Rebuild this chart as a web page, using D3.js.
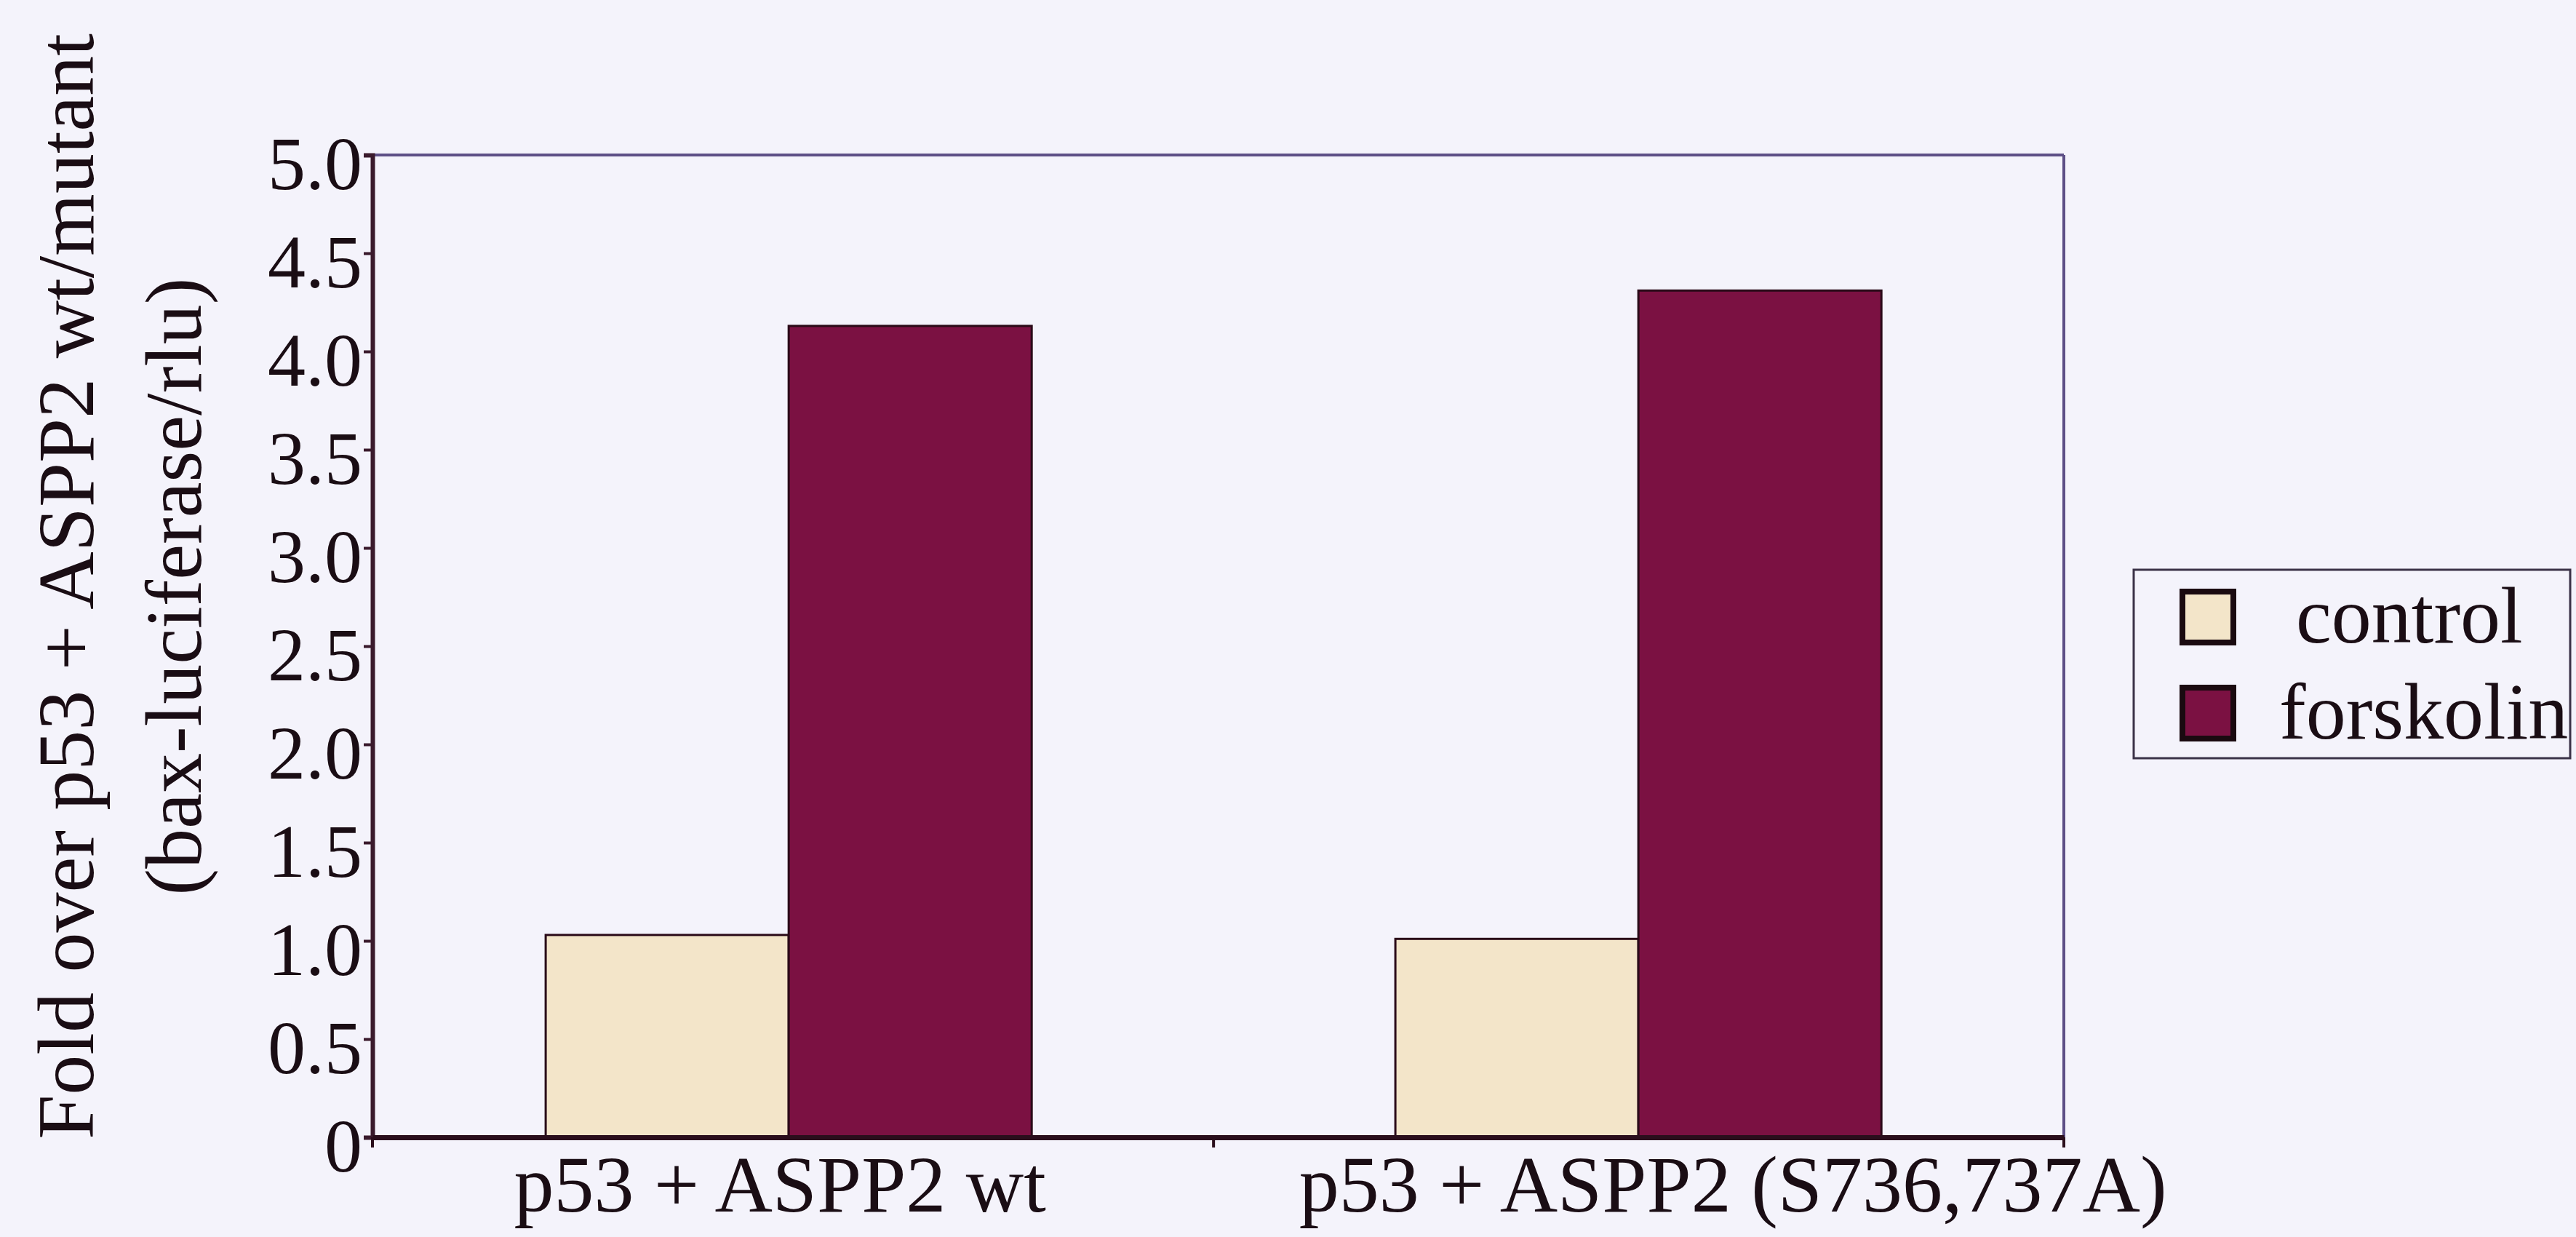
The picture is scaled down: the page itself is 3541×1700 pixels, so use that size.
<!DOCTYPE html>
<html>
<head>
<meta charset="utf-8">
<script src="https://cdn.jsdelivr.net/npm/d3@7"></script>
<style>
  html, body { margin: 0; padding: 0; background: #f4f3fb; }
  svg { display: block; }
  text { font-family: "Liberation Serif", "Times New Roman", serif; fill: #1a0d14; }
</style>
</head>
<body>
<svg id="chart" width="3541" height="1700"></svg>
<script>
// ---- data ----
const categories = ["p53 + ASPP2 wt", "p53 + ASPP2 (S736,737A)"];
const seriesNames = ["control", "forskolin"];
const controlValues = [1.03, 1.01];
const forskolinValues = [4.13, 4.31];
const yTickValues = [0, 0.5, 1.0, 1.5, 2.0, 2.5, 3.0, 3.5, 4.0, 4.5, 5.0];
const yTickLabels = ["0", "0.5", "1.0", "1.5", "2.0", "2.5", "3.0", "3.5", "4.0", "4.5", "5.0"];
const yTitleLines = ["Fold over p53 + ASPP2 wt/mutant", "(bax-luciferase/rlu)"];

const colors = { control: "#f3e5c9", forskolin: "#7b1142" };

const rows = categories.map((c, i) => ({ cat: c, control: controlValues[i], forskolin: forskolinValues[i] }));

// ---- layout ----
const svg = d3.select("#chart");
const plot = { left: 512, right: 2837, top: 213, bottom: 1563 };

const y = d3.scaleLinear().domain([0, 5]).range([plot.bottom, plot.top]);
const x0 = d3.scaleBand().domain(categories).range([plot.left, plot.right])
  .paddingInner(0.428).paddingOuter(0.2093).align(0.487);
const x1 = d3.scaleBand().domain(seriesNames).range([0, x0.bandwidth()]).padding(0);

// frame (top & right)
svg.append("line").attr("x1", plot.left).attr("x2", plot.right).attr("y1", plot.top).attr("y2", plot.top)
  .attr("stroke", "#5d4f86").attr("stroke-width", 4);
svg.append("line").attr("x1", plot.right).attr("x2", plot.right).attr("y1", plot.top).attr("y2", plot.bottom)
  .attr("stroke", "#5d4f86").attr("stroke-width", 4);

// bars
const groups = svg.append("g").selectAll("g").data(rows).join("g")
  .attr("transform", d => `translate(${x0(d.cat)},0)`);
groups.selectAll("rect")
  .data(d => seriesNames.map(s => ({ key: s, value: d[s] })))
  .join("rect")
  .attr("x", d => x1(d.key))
  .attr("width", x1.bandwidth())
  .attr("y", d => y(d.value))
  .attr("height", d => y(0) - y(d.value))
  .attr("fill", d => colors[d.key])
  .attr("stroke", "#2a0a18")
  .attr("stroke-width", 3);

// y axis
const yAxis = d3.axisLeft(y).tickValues(yTickValues)
  .tickFormat((d, i) => yTickLabels[i]).tickSize(12).tickPadding(2);
const gy = svg.append("g").attr("transform", `translate(${plot.left},0)`).call(yAxis);
gy.select(".domain").attr("stroke", "#3a1a2c").attr("stroke-width", 6);
gy.selectAll(".tick line").attr("stroke", "#3a1a2c").attr("stroke-width", 4);
gy.selectAll(".tick text")
  .style("font-family", "'Liberation Serif', 'Times New Roman', serif")
  .style("font-size", "104px").attr("fill", "#1a0d14").attr("dy", "0.45em");

// x axis (baseline)
const xAxis = d3.axisBottom(x0).tickSize(0).tickFormat("");
const gx = svg.append("g").attr("transform", `translate(0,${plot.bottom})`).call(xAxis);
gx.select(".domain").attr("stroke", "#2a0e1c").attr("stroke-width", 7);
// category separator ticks
const sepX = [plot.left, (x0(categories[0]) + x0.bandwidth() + x0(categories[1])) / 2, plot.right];
gx.selectAll("line.sep").data(sepX).join("line").attr("class", "sep")
  .attr("x1", d => d).attr("x2", d => d).attr("y1", 0).attr("y2", 14)
  .attr("stroke", "#2a0e1c").attr("stroke-width", 4);

// x category labels
const labelNudge = [-12, 130];
svg.append("g").selectAll("text").data(categories).join("text")
  .attr("x", (d, i) => x0(d) + x0.bandwidth() / 2 + labelNudge[i])
  .attr("y", 1665)
  .attr("text-anchor", "middle")
  .style("font-size", "110px")
  .text(d => d);

// y title (two lines, rotated)
const titleX = [128, 276];
svg.append("g").selectAll("text").data(yTitleLines).join("text")
  .attr("transform", (d, i) => `translate(${titleX[i]},806) rotate(-90)`)
  .attr("text-anchor", "middle")
  .style("font-size", "110px")
  .text(d => d);

// legend
const legend = svg.append("g").attr("transform", "translate(2933,783)");
legend.append("rect").attr("x", 0).attr("y", 0).attr("width", 600).attr("height", 259)
  .attr("fill", "none").attr("stroke", "#3b3348").attr("stroke-width", 3);
const li = legend.selectAll("g.item").data(seriesNames).join("g").attr("class", "item")
  .attr("transform", (d, i) => `translate(0,${30 + i * 132})`);
li.append("rect").attr("x", 67).attr("y", 0).attr("width", 70).attr("height", 70)
  .attr("fill", d => colors[d]).attr("stroke", "#1a0a10").attr("stroke-width", 8);
li.append("text").attr("x", (d, i) => i === 0 ? 223 : 200).attr("y", 70)
  .style("font-size", "110px").text(d => d);
</script>
</body>
</html>
